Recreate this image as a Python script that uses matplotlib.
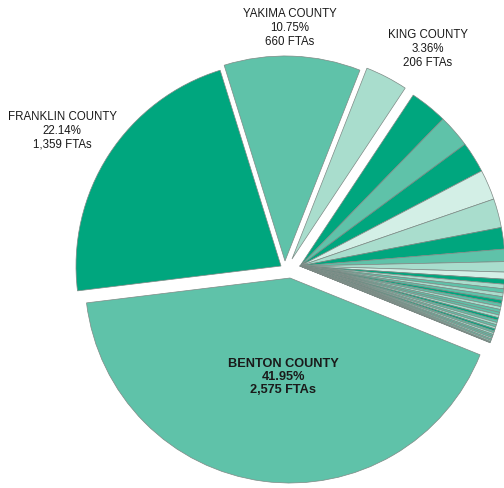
import matplotlib
matplotlib.use("Agg")
import matplotlib.pyplot as plt

# FTAs by county: the four named counties, then the remaining 35 (sorted)
top_counties = ["BENTON COUNTY", "FRANKLIN COUNTY", "YAKIMA COUNTY", "KING COUNTY"]
top_ftas = [2575, 1359, 660, 206]
other_ftas = [182, 160, 150, 146, 140, 104, 60, 50, 34,
              24, 22, 20, 18, 17, 16, 15, 14, 14, 13, 13, 12, 12, 11,
              11, 10, 10, 9, 9, 8, 8, 7, 7, 6, 4, 2]

DARK, MED, LIGHT, VLIGHT = "#00a67e", "#5fc2a9", "#a9ddcd", "#d3efe6"
top_colors = [MED, DARK, MED, LIGHT]
other_colors = [DARK, MED, DARK, VLIGHT, LIGHT, DARK, MED, LIGHT, VLIGHT,
                DARK, LIGHT, MED, LIGHT, MED, DARK, MED, LIGHT, MED, MED,
                LIGHT, DARK, MED, LIGHT, MED, LIGHT, DARK, MED, LIGHT, MED,
                MED, LIGHT, MED, LIGHT, MED, MED]

W, H = 504, 489                       # axes in pixel units, y up
CX, CY, R = 290, H - 267, 205
# per-slice shift (px) standing in for the explode of the source chart
top_shift = [(0, -12), (-9, 0), (-5, 5), (2, 7)]
other_shift = (10, 0)
label_pos = [(283, 377), (62, 131), (290, 28), (428, 49)]   # image px

values = top_ftas + other_ftas
total = sum(values)

fig = plt.figure(figsize=(W / 100, H / 100), dpi=100)
ax = fig.add_axes([0, 0, 1, 1])
wedges, _ = ax.pie(values, colors=top_colors + other_colors, startangle=-22, counterclock=False,
                   radius=R, center=(CX, CY),
                   wedgeprops=dict(edgecolor="#7d8a85", linewidth=0.5))
shifts = top_shift + [other_shift] * len(other_ftas)
for w, (dx, dy) in zip(wedges, shifts):
    w.set_center((CX + dx, CY + dy))

for i, (name, v) in enumerate(zip(top_counties, top_ftas)):
    x, y = label_pos[i]
    ax.text(x, H - y, f"{name}\n{v / total * 100:.2f}%\n{v:,} FTAs", ha="center", va="center",
            fontsize=9.2 if i == 0 else 8.3, fontweight="bold" if i == 0 else "normal",
            family="Liberation Sans", linespacing=1.15 if i == 0 else 1.2, color="#1a1a1a")

ax.set_xlim(0, W); ax.set_ylim(0, H)
ax.set_aspect("equal"); ax.axis("off")
fig.savefig("out.png", dpi=100)
